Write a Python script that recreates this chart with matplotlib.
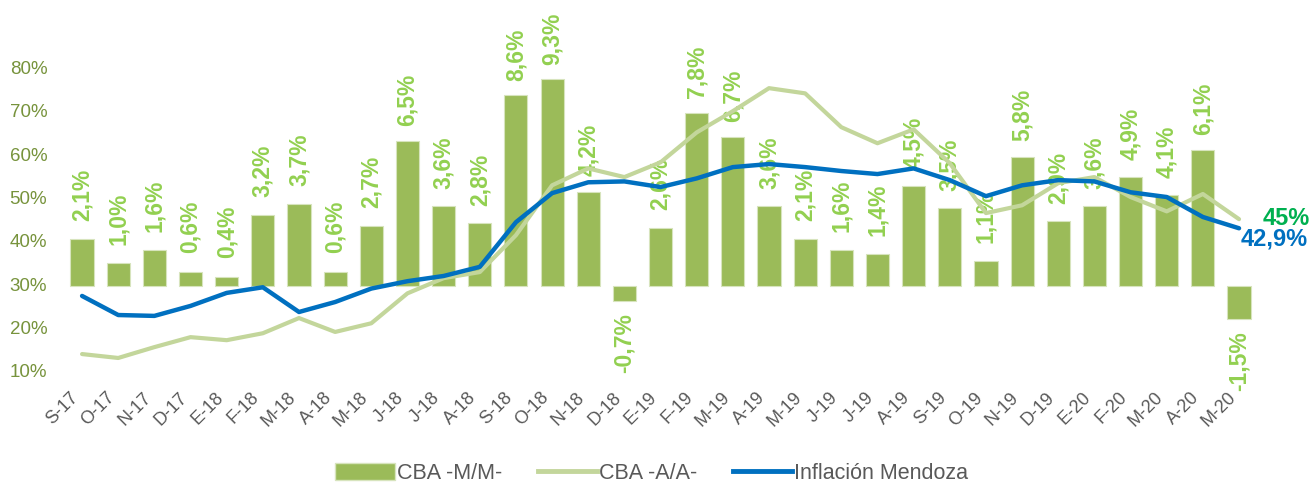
import numpy as np
import matplotlib
matplotlib.use("Agg")
import matplotlib.pyplot as plt
from matplotlib.lines import Line2D
from matplotlib.patches import Patch
from matplotlib.transforms import ScaledTranslation

plt.rcParams['font.family'] = ['Liberation Sans', 'DejaVu Sans']

# Months (Spanish initials)
meses = ["S-17", "O-17", "N-17", "D-17", "E-18", "F-18", "M-18", "A-18", "M-18", "J-18",
         "J-18", "A-18", "S-18", "O-18", "N-18", "D-18", "E-19", "F-19", "M-19", "A-19",
         "M-19", "J-19", "J-19", "A-19", "S-19", "O-19", "N-19", "D-19", "E-20", "F-20",
         "M-20", "A-20", "M-20"]

# CBA monthly variation (%)
cba_mm = [2.1, 1.0, 1.6, 0.6, 0.4, 3.2, 3.7, 0.6, 2.7, 6.5,
          3.6, 2.8, 8.6, 9.3, 4.2, -0.7, 2.6, 7.8, 6.7, 3.6,
          2.1, 1.6, 1.4, 4.5, 3.5, 1.1, 5.8, 2.9, 3.6, 4.9,
          4.1, 6.1, -1.5]

# CBA year-over-year (%)
cba_aa = [13.9, 13.0, 15.5, 17.8, 17.1, 18.7, 22.2, 19.0, 21.0, 27.9,
          31.4, 32.8, 41.3, 52.8, 56.7, 54.7, 58.1, 65.0, 69.9, 75.2,
          74.0, 66.2, 62.5, 65.7, 57.9, 46.4, 48.2, 53.3, 54.7, 50.1,
          46.8, 50.8, 45.0]

# Inflation Mendoza year-over-year (%)
inflacion = [27.3, 22.9, 22.7, 25.0, 28.0, 29.3, 23.6, 25.9, 29.0, 30.7,
             31.9, 34.0, 44.3, 51.0, 53.5, 53.7, 52.4, 54.4, 57.0, 57.7,
             57.0, 56.1, 55.4, 56.7, 54.0, 50.3, 52.8, 54.0, 53.7, 51.2,
             50.1, 45.5, 42.9]

bar_color = '#9BBB59'
aa_color = '#C3D69B'
inf_color = '#0070C0'
lbl_color = '#92D050'

fig = plt.figure(figsize=(13.14, 4.84), dpi=100)
ax = fig.add_axes([0.0487, 0.2335, 0.908, 0.717])
ax2 = ax.twinx()

x = np.arange(len(meses))

# left axis limits and secondary (bar) axis aligned so that 0 sits at ~29.7%
y_lo, y_hi = 10, 90
zero_at = 29.7
ratio = 5.11
ax.set_ylim(y_lo, y_hi)
ax2.set_ylim((y_lo - zero_at) / ratio, (y_hi - zero_at) / ratio)
ax.set_xlim(-0.5, len(meses) - 0.5)

# bars on the secondary axis, drawn behind lines
ax2.set_zorder(1)
ax.set_zorder(2)
ax.patch.set_visible(False)
ax2.bar(x, cba_mm, width=0.64, color=bar_color, edgecolor='#D7E4BD', linewidth=0.8)

for xi, v in zip(x, cba_mm):
    lab = f"{v:.1f}%".replace('.', ',')
    if v >= 0:
        off = (18.5 - 0.55 * v) * 0.75
        ax2.annotate(lab, (xi, v), xytext=(0, off), textcoords='offset points',
                     rotation=90, ha='center', va='bottom', color=lbl_color,
                     fontsize=16.5, fontweight='bold', annotation_clip=False)
    else:
        ax2.annotate(lab, (xi, v), xytext=(0, -9), textcoords='offset points',
                     rotation=90, ha='center', va='top', color=lbl_color,
                     fontsize=16.5, fontweight='bold', annotation_clip=False)

ax.plot(x, cba_aa, color=aa_color, linewidth=3, solid_capstyle='round')
ax.plot(x, inflacion, color=inf_color, linewidth=3.2, solid_capstyle='round')

ax.annotate(f"{cba_aa[-1]:.0f}%", (x[-1], cba_aa[-1]), xytext=(17, 0.5),
            textcoords='offset points', ha='left', va='center', color='#00B050',
            fontsize=17, fontweight='bold', annotation_clip=False)
ax.annotate(f"{inflacion[-1]:.1f}%".replace('.', ','), (x[-1], inflacion[-1]),
            xytext=(1, -7.5), textcoords='offset points', ha='left', va='center',
            color=inf_color, fontsize=17, fontweight='bold', annotation_clip=False)

ax.set_yticks(range(10, 90, 10))
ax.set_yticklabels([f"{t}%" for t in range(10, 90, 10)], color='#77933C', fontsize=13.5)
ax.set_xticks(x)
ax.set_xticklabels(meses, rotation=45, ha='right', va='top', color='#595959', fontsize=13)
shift = ScaledTranslation(0.04, 0, fig.dpi_scale_trans)
for t in ax.get_xticklabels():
    t.set_transform(t.get_transform() + shift)
ax.tick_params(axis='both', length=0)
ax.tick_params(axis='y', pad=12)
ax.tick_params(axis='x', pad=13)
ax2.set_yticks([])
for a in (ax, ax2):
    for s in a.spines.values():
        s.set_visible(False)

handles = [Patch(facecolor=bar_color, edgecolor='#D7E4BD'),
           Line2D([0], [0], color=aa_color, linewidth=3.5),
           Line2D([0], [0], color=inf_color, linewidth=3.5)]
fig.legend(handles, ["CBA -M/M-", "CBA -A/A-", "Inflación Mendoza"],
           loc='center', bbox_to_anchor=(0.496, 0.022), ncol=3, frameon=False,
           fontsize=15.5, labelcolor='#595959', handlelength=2.75, handleheight=0.85,
           handletextpad=0.1, columnspacing=1.65, borderpad=0)

fig.savefig("out.png", dpi=100)
